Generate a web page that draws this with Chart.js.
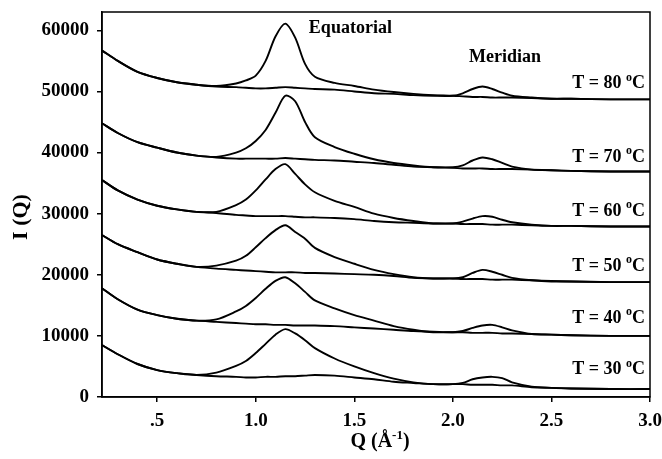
<!DOCTYPE html>
<html>
<head>
<meta charset="utf-8">
<script src="https://cdn.jsdelivr.net/npm/chart.js@4/dist/chart.umd.min.js"></script>
<style>
  html, body { margin: 0; background: #fff; }
  #wrap { width: 662px; height: 459px; }
</style>
</head>
<body>
<div id="wrap"><canvas id="chart"></canvas></div>
<script>
// scattering vector Q (1/Angstrom)
const q = [0.22, 0.3, 0.4, 0.5, 0.6, 0.7, 0.8, 0.9, 0.95, 1.0, 1.05, 1.1, 1.15, 1.2, 1.25, 1.3,
  1.4, 1.5, 1.6, 1.7, 1.8, 1.9, 2.0, 2.05, 2.1, 2.15, 2.2, 2.25, 2.3, 2.4, 2.5, 2.6, 2.8, 3.0];

// equatorial / meridian scans, stacked per temperature
const eq80  = [56700, 55000, 53200, 52200, 51500, 51100, 50900, 51300, 51800, 52600, 55000, 59000, 61100, 58800, 54500, 52400,
  51400, 50900, 50300, 49900, 49600, 49400, 49300, 49200, 49100, 49100, 49000, 49000, 49000, 48900, 48800, 48800, 48700, 48700];
const mer80 = [56700, 55000, 53200, 52200, 51500, 51100, 50800, 50700, 50600, 50500, 50500, 50600, 50700, 50600, 50500, 50400,
  50300, 50000, 49700, 49600, 49400, 49300, 49300, 49700, 50400, 50800, 50400, 49800, 49300, 49000, 48800, 48800, 48700, 48700];

const eq70  = [44800, 43200, 41700, 40800, 40000, 39500, 39300, 40000, 40700, 41900, 43700, 46500, 49300, 48400, 45000, 42500,
  40900, 39800, 38900, 38300, 37900, 37600, 37500, 37400, 37400, 37400, 37300, 37300, 37300, 37200, 37100, 37000, 36900, 36900];
const mer70 = [44800, 43200, 41700, 40800, 40000, 39500, 39200, 39000, 39000, 39000, 39000, 39000, 39100, 39000, 38900, 38800,
  38700, 38500, 38300, 38000, 37700, 37600, 37600, 37900, 38700, 39200, 38900, 38300, 37700, 37200, 37100, 37000, 36900, 36900];

const eq60  = [35500, 33800, 32300, 31300, 30700, 30300, 30300, 31400, 32300, 33800, 35600, 37300, 38100, 36500, 34800, 33500,
  32100, 31100, 30000, 29300, 28800, 28400, 28400, 28300, 28300, 28300, 28200, 28200, 28200, 28100, 28000, 28000, 27900, 27900];
const mer60 = [35500, 33800, 32300, 31300, 30700, 30300, 30100, 29800, 29700, 29600, 29600, 29600, 29600, 29500, 29400, 29400,
  29300, 29100, 28800, 28600, 28500, 28400, 28400, 28700, 29200, 29600, 29500, 29000, 28600, 28200, 28000, 28000, 27900, 27900];

const eq50  = [26500, 25000, 23700, 22500, 21800, 21300, 21500, 22300, 23100, 24500, 26000, 27300, 28100, 27000, 25900, 24400,
  22900, 21800, 20800, 20100, 19600, 19400, 19400, 19300, 19300, 19300, 19200, 19200, 19200, 19100, 19000, 18900, 18800, 18800];
const mer50 = [26500, 25000, 23700, 22500, 21800, 21300, 21000, 20800, 20700, 20600, 20500, 20400, 20400, 20400, 20300, 20300,
  20200, 20100, 20000, 19800, 19500, 19400, 19400, 19600, 20300, 20800, 20500, 20000, 19500, 19100, 18900, 18900, 18800, 18800];

const eq40  = [17800, 16000, 14300, 13400, 12800, 12500, 12700, 14000, 14900, 16200, 17700, 19000, 19600, 18600, 17200, 15800,
  14500, 13400, 12500, 11600, 11000, 10600, 10600, 10600, 10500, 10500, 10500, 10400, 10400, 10300, 10200, 10100, 10000, 10000];
const mer40 = [17800, 16000, 14300, 13400, 12800, 12500, 12300, 12100, 12000, 11900, 11900, 11800, 11800, 11700, 11700, 11700,
  11600, 11400, 11200, 11000, 10800, 10700, 10600, 10800, 11300, 11700, 11800, 11400, 10900, 10300, 10200, 10100, 10000, 10000];

const eq30  = [8500, 7000, 5400, 4400, 3900, 3600, 4000, 5100, 5900, 7200, 8700, 10200, 11100, 10400, 9300, 8000,
  6300, 5000, 3900, 3000, 2400, 2100, 2100, 2100, 2000, 2000, 2000, 1900, 1900, 1600, 1500, 1400, 1300, 1300];
const mer30 = [8500, 7000, 5400, 4400, 3900, 3600, 3400, 3300, 3200, 3200, 3300, 3300, 3400, 3400, 3500, 3600,
  3500, 3200, 2900, 2500, 2300, 2100, 2100, 2300, 2900, 3200, 3300, 3100, 2400, 1700, 1500, 1400, 1300, 1300];

const series = [eq80, mer80, eq70, mer70, eq60, mer60, eq50, mer50, eq40, mer40, eq30, mer30];

const temps = ['80', '70', '60', '50', '40', '30'];
const tempLabelY = [51500, 39500, 30600, 21600, 13100, 4700];

const xTicks = [0.5, 1.0, 1.5, 2.0, 2.5, 3.0];
const xTickLabels = ['.5', '1.0', '1.5', '2.0', '2.5', '3.0'];
const yTicks = [0, 10000, 20000, 30000, 40000, 50000, 60000];

const FONT = '"Liberation Serif", "Times New Roman", serif';

const datasets = series.map(vals => ({
  data: vals.map((v, i) => ({ x: q[i], y: v })),
  borderColor: '#000',
  borderWidth: 1.9,
  pointRadius: 0,
  fill: false,
  tension: 0.3
}));

// superscript text helper: parts = [[text, isSup], ...]
function drawParts(ctx, parts, xPos, yPos, size, supSize, align) {
  const widths = parts.map(([t, sup]) => {
    ctx.font = 'bold ' + (sup ? supSize : size) + 'px ' + FONT;
    return ctx.measureText(t).width;
  });
  const total = widths.reduce((a, b) => a + b, 0);
  let cx = align === 'right' ? xPos - total : align === 'center' ? xPos - total / 2 : xPos;
  ctx.textAlign = 'left';
  ctx.textBaseline = 'alphabetic';
  parts.forEach(([t, sup], i) => {
    ctx.font = 'bold ' + (sup ? supSize : size) + 'px ' + FONT;
    ctx.fillText(t, cx, sup ? yPos - size * 0.42 : yPos);
    cx += widths[i];
  });
}

const extras = {
  id: 'extras',
  afterDraw(chart) {
    const { ctx, chartArea: a, scales: { x, y } } = chart;
    ctx.save();
    ctx.strokeStyle = '#000';
    ctx.lineWidth = 1.5;
    ctx.strokeRect(a.left, a.top, a.right - a.left, a.bottom - a.top);

    ctx.fillStyle = '#000';
    ctx.font = 'bold 18px ' + FONT;
    ctx.textAlign = 'center';
    ctx.textBaseline = 'middle';
    ctx.fillText('Equatorial', x.getPixelForValue(1.48), y.getPixelForValue(60300));
    ctx.fillText('Meridian', x.getPixelForValue(2.265), y.getPixelForValue(55600));

    temps.forEach((t, i) => {
      drawParts(ctx, [['T = ' + t + ' ', false], ['o', true], ['C', false]],
        x.getPixelForValue(2.975), y.getPixelForValue(tempLabelY[i]) + 6, 18, 12, 'right');
    });

    // axis titles
    drawParts(ctx, [['Q (Å', false], ['-1', true], [')', false]], 380, 447, 20, 13, 'center');
    ctx.translate(21, 217);
    ctx.rotate(-Math.PI / 2);
    ctx.font = 'bold 22px ' + FONT;
    ctx.textAlign = 'center';
    ctx.textBaseline = 'middle';
    ctx.fillText('I (Q)', 0, 0);
    ctx.restore();
  }
};

new Chart(document.getElementById('chart'), {
  type: 'line',
  data: { datasets },
  plugins: [extras],
  options: {
    responsive: true,
    maintainAspectRatio: false,
    animation: false,
    layout: { padding: { top: 12, right: 12, left: 0, bottom: 0 } },
    plugins: { legend: { display: false }, tooltip: { enabled: false } },
    scales: {
      x: {
        type: 'linear',
        min: 0.22,
        max: 3.0,
        afterBuildTicks: s => { s.ticks = xTicks.map(v => ({ value: v })); },
        afterFit: s => { s.height = 62; s.paddingLeft = 0; s.paddingRight = 0; },
        grid: { drawOnChartArea: false, tickLength: 5, color: '#000', lineWidth: 1.5 },
        border: { color: '#000', width: 1.5 },
        ticks: {
          color: '#000',
          padding: 8,
          maxRotation: 0,
          font: { family: FONT, size: 19, weight: 'bold' },
          callback: v => xTickLabels[xTicks.indexOf(v)]
        }
      },
      y: {
        min: 0,
        max: 63000,
        afterBuildTicks: s => { s.ticks = yTicks.map(v => ({ value: v })); },
        afterFit: s => { s.width = 102; s.paddingTop = 0; s.paddingBottom = 0; },
        grid: { drawOnChartArea: false, tickLength: 5, color: '#000', lineWidth: 1.5 },
        border: { color: '#000', width: 1.5 },
        ticks: {
          color: '#000',
          padding: 8,
          font: { family: FONT, size: 19, weight: 'bold' },
          callback: v => String(v)
        }
      }
    }
  }
});
</script>
</body>
</html>
